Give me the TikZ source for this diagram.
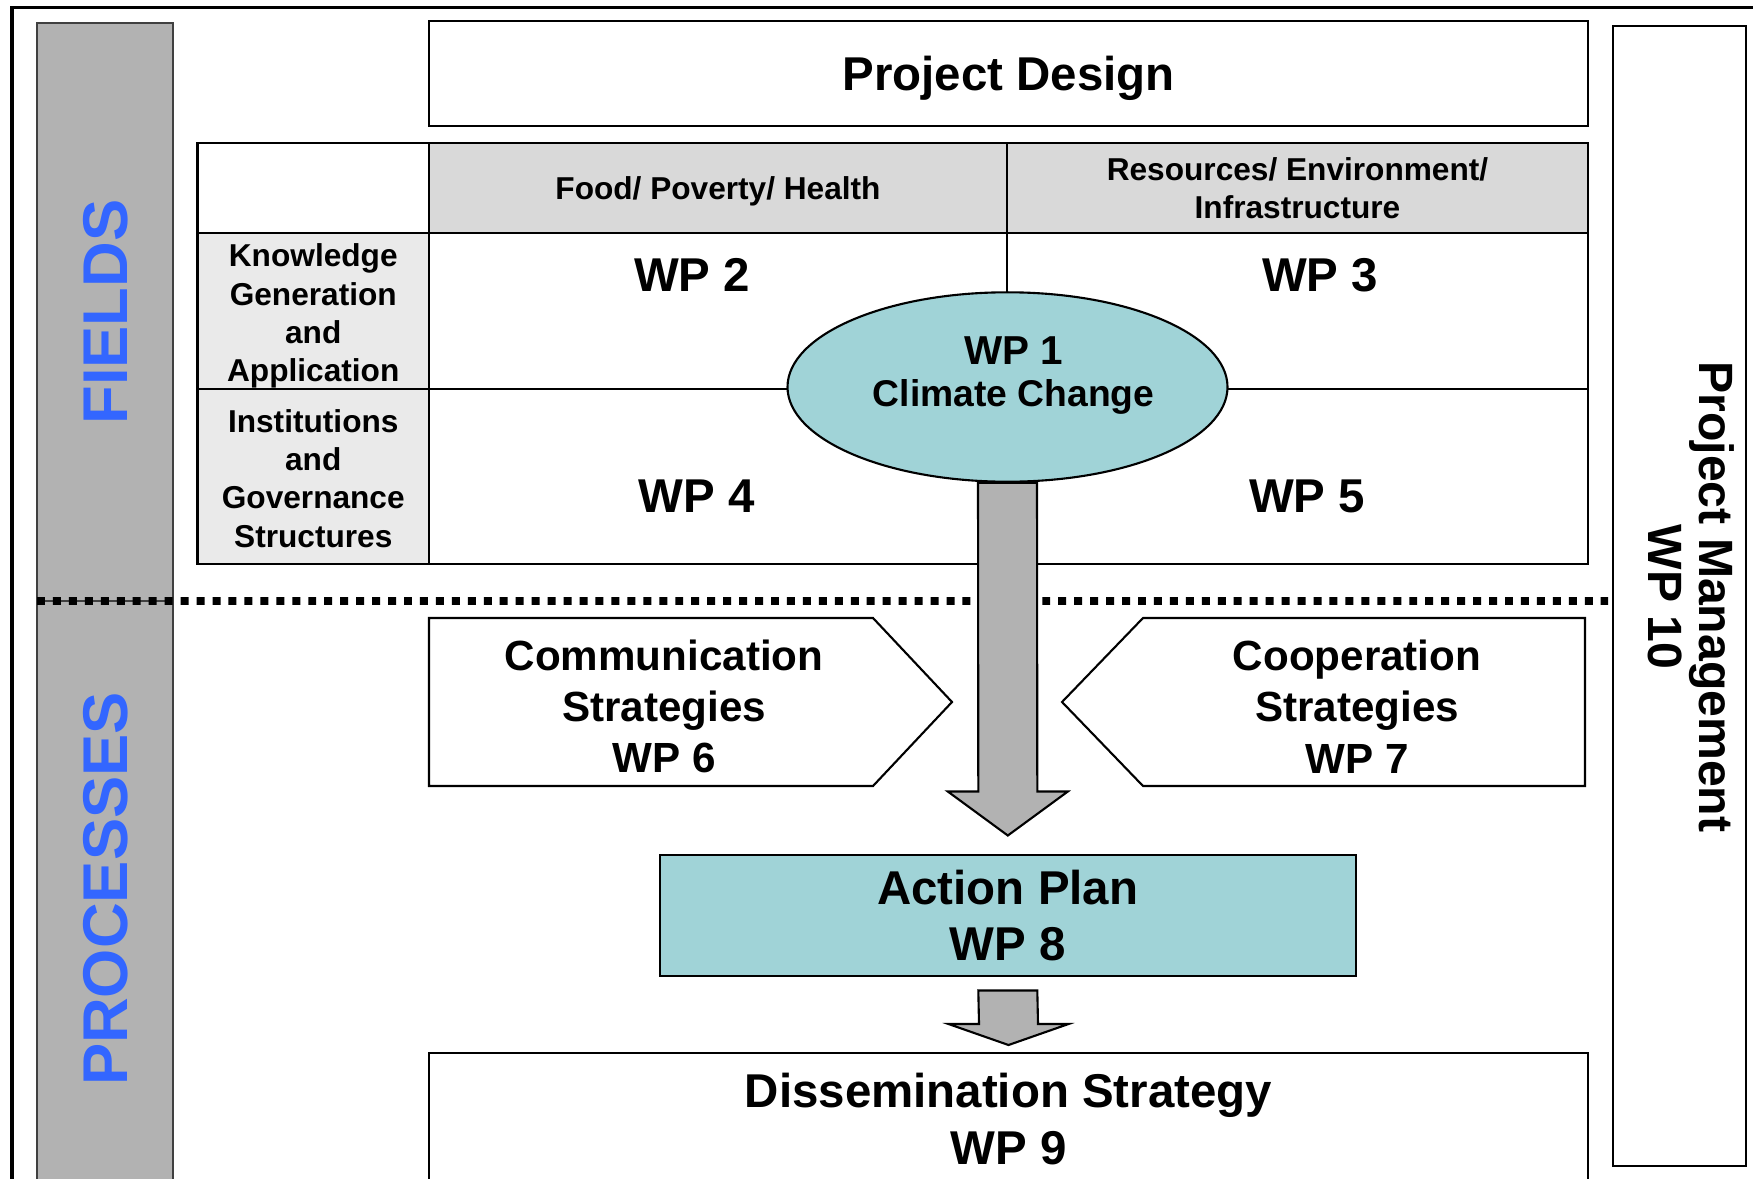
\documentclass[tikz,border=0pt]{standalone}
\usepackage{fontspec}
\setmainfont{Liberation Sans}
\usetikzlibrary{shapes.geometric,calc}
\definecolor{bargray}{RGB}{178,178,178}
\definecolor{hdrgray}{RGB}{217,217,217}
\definecolor{rowgray}{RGB}{234,234,234}
\definecolor{climteal}{RGB}{160,211,215}
\definecolor{fieldblue}{RGB}{51,102,255}
\begin{document}
\begin{tikzpicture}[
        sidebar/.style={draw=black!75, fill=bargray, line width=0.5pt, minimum width=1.36cm, inner sep=0pt, outer sep=0pt},
        sidelbl/.style={font=\fontsize{18}{21}\selectfont\bfseries, text=fieldblue, rotate=90, inner sep=0pt},
        cellbox/.style={draw, line width=0.6pt, inner sep=0pt, outer sep=0pt, align=center},
        hdrlbl/.style={cellbox, fill=hdrgray, font=\fontsize{9}{10.8}\selectfont\bfseries},
        rowcell/.style={cellbox, fill=rowgray, minimum width=2.315cm},
        rowlbl/.style={font=\fontsize{9}{10.9}\selectfont\bfseries, align=center, inner sep=0pt},
        wplbl/.style={font=\fontsize{13.5}{16}\selectfont\bfseries, inner sep=0pt},
        bigbox/.style={cellbox, font=\fontsize{13.5}{16.2}\selectfont\bfseries},
        stratlbl/.style={font=\fontsize{12}{14.6}\selectfont\bfseries, align=center, inner sep=0pt},
        blockarrow/.style={draw, fill=bargray, line width=0.6pt},
        sepline/.style={line width=2.27pt, dash pattern=on 2.27pt off 2.27pt}
      ]
      \useasboundingbox (0,0) rectangle (17.53,-11.78);
      \draw[line width=1pt] (17.6,-0.075) -- (0.119,-0.075) -- (0.119,-11.9);
      \node[sidebar, minimum height=5.78cm] (fields) at (1.05,-3.12) {};
      \node[sidebar, minimum height=5.89cm] (procs) at (1.05,-8.955) {};
      \node[sidelbl] (fieldslbl) at (1.06,-3.12) {FIELDS};
      \node[sidelbl] (procslbl) at (1.06,-8.89) {PROCESSES};
      \node[bigbox, text depth=0pt, minimum width=11.59cm, minimum height=1.05cm] (design) at (10.085,-0.735) {Project Design};
      \node[cellbox, minimum width=2.315cm, minimum height=0.897cm] (corner) at (3.1325,-1.8815) {};
      \node[hdrlbl, text depth=0pt, minimum width=5.78cm, minimum height=0.897cm] (food) at (7.18,-1.8815) {Food/ Poverty/ Health};
      \node[hdrlbl, minimum width=5.81cm, minimum height=0.897cm] (res) at (12.975,-1.8815) {Resources/ Environment/\\Infrastructure};
      \node[rowcell, minimum height=1.557cm] (cknow) at (3.1325,-3.1085) {};
      \node[rowcell, minimum height=1.753cm] (cinst) at (3.1325,-4.7635) {};
      \node[rowlbl] (know) at (3.1325,-3.16) {Knowledge\\Generation\\and\\Application};
      \node[rowlbl] (inst) at (3.1325,-4.785) {Institutions\\and\\Governance\\Structures};
      \foreach \nm/\cx/\cy/\w/\h/\lx/\ly in {%
        2/7.18/-3.1085/5.78/1.557/6.92/-2.75,
        3/12.975/-3.1085/5.81/1.557/13.20/-2.75,
        4/7.18/-4.7635/5.78/1.753/6.965/-4.96,
        5/12.975/-4.7635/5.81/1.753/13.07/-4.96%
      }{
        \node[cellbox, minimum width=\w cm, minimum height=\h cm] (cell\nm) at (\cx,\cy) {};
        \node[wplbl] (wp\nm) at (\lx,\ly) {WP \nm};
      }
      \draw[sepline] (fields.south west) -- (16.08,-6.01);
      \node[draw, fill=climteal, ellipse, line width=0.6pt, minimum width=4.40cm, minimum height=1.894cm, inner sep=0pt] (clim) at (10.075,-3.87) {};
      \node[font=\bfseries, align=center, inner sep=0pt] (wp1) at (10.135,-3.755) {\fontsize{11.5}{13.6}\selectfont WP 1\\\fontsize{10.6}{13.6}\selectfont Climate Change};
      \draw[line width=0.6pt, fill=white] (4.29,-6.18) -- (8.73,-6.18) -- (9.52,-7.02) -- (8.73,-7.86) -- (4.29,-7.86) -- cycle;
      \node[stratlbl] (comm) at (6.64,-7.066) {Communication\\Strategies\\WP 6};
      \draw[line width=0.6pt, fill=white] (15.85,-6.18) -- (11.43,-6.18) -- (10.62,-7.02) -- (11.43,-7.86) -- (15.85,-7.86) -- cycle;
      \node[stratlbl] (coop) at (13.57,-7.066) {Cooperation\\Strategies\\WP 7};
      \node[bigbox, fill=climteal, minimum width=6.964cm, minimum height=1.21cm] (plan) at (10.078,-9.155) {Action Plan\\WP 8};
      \node[bigbox, minimum width=11.59cm, minimum height=1.32cm] (diss) at (10.085,-11.19) {Dissemination Strategy\\WP 9};
      \node[cellbox, minimum width=1.33cm, minimum height=11.40cm] (pm) at (16.795,-5.96) {};
      \node[font=\fontsize{13.7}{14.4}\selectfont\bfseries, rotate=-90, align=center, inner sep=0pt] (pmlbl) at (16.91,-5.97) {Project Management\\WP 10};
      \draw[blockarrow] ($(clim.south)+(-0.295,0)$) -- ($(plan.north)+(-0.295,0.635)$) -- ($(plan.north)+(-0.6,0.635)$)
        -- ($(plan.north)+(0,0.195)$) -- ($(plan.north)+(0.6,0.635)$) -- ($(plan.north)+(0.295,0.635)$)
        -- ($(clim.south)+(0.295,0)$) -- cycle;
      \draw[blockarrow] ($(plan.south)+(-0.295,-0.145)$) -- ($(diss.north)+(-0.295,0.29)$) -- ($(diss.north)+(-0.6,0.29)$)
        -- ($(diss.north)+(0,0.08)$) -- ($(diss.north)+(0.6,0.29)$) -- ($(diss.north)+(0.295,0.29)$)
        -- ($(plan.south)+(0.295,-0.145)$) -- cycle;
    \end{tikzpicture}
\end{document}
